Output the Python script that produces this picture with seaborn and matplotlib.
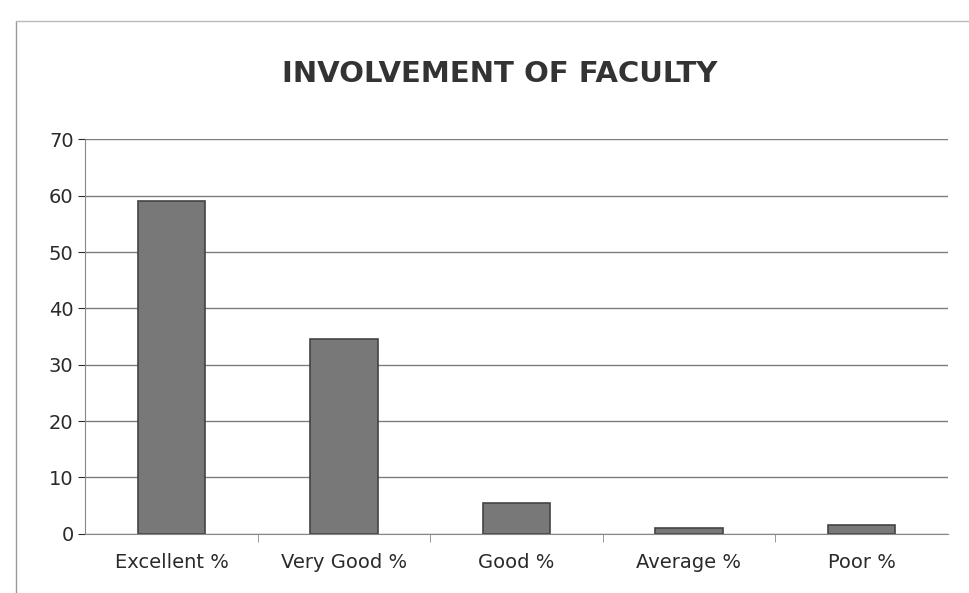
import matplotlib
matplotlib.use("Agg")
import matplotlib.pyplot as plt
import seaborn as sns
import pandas as pd

categories = ["Excellent %", "Very Good %", "Good %", "Average %", "Poor %"]
values = [59, 34.5, 5.5, 1, 1.5]
y_ticks = [0, 10, 20, 30, 40, 50, 60, 70]

df = pd.DataFrame({"Rating": categories, "Percent": values})

sns.set_style("white")
fig = plt.figure(figsize=(9.7, 5.93), dpi=100)
ax = fig.add_axes([0.088, 0.1, 0.889, 0.665])

sns.barplot(data=df, x="Rating", y="Percent", color="#787878", width=0.39,
            edgecolor="#444444", linewidth=1.2, saturation=1, ax=ax)

ax.set_ylim(0, 70)
ax.set_yticks(y_ticks)
ax.yaxis.grid(True, color="#7c7c7c", linewidth=1)
ax.set_axisbelow(True)
ax.set_xlabel("")
ax.set_ylabel("")
for s in ["top", "right"]:
    ax.spines[s].set_visible(False)
ax.spines["left"].set_color("#888888")
ax.spines["bottom"].set_color("#888888")
ax.tick_params(axis="y", labelsize=14, colors="#2a2a2a", length=5, left=True)
ax.tick_params(axis="x", labelsize=14, colors="#2a2a2a", length=5, bottom=True, pad=14)
ax.set_xticks([i + 0.5 for i in range(len(categories) - 1)], minor=True)
ax.tick_params(axis="x", which="minor", length=6, bottom=True, color="#888888")
ax.tick_params(axis="x", which="major", length=0)

fig.text(0.515, 0.875, "INVOLVEMENT OF FACULTY", ha="center", va="center",
         fontsize=21, fontweight="bold", color="#333333")

# chart frame
fig.add_artist(plt.Line2D([0.016, 0.016], [0.0, 0.965], color="#999999", lw=1, transform=fig.transFigure))
fig.add_artist(plt.Line2D([0.016, 1.0], [0.965, 0.965], color="#bbbbbb", lw=1, transform=fig.transFigure))

fig.savefig("out.png", dpi=100)
